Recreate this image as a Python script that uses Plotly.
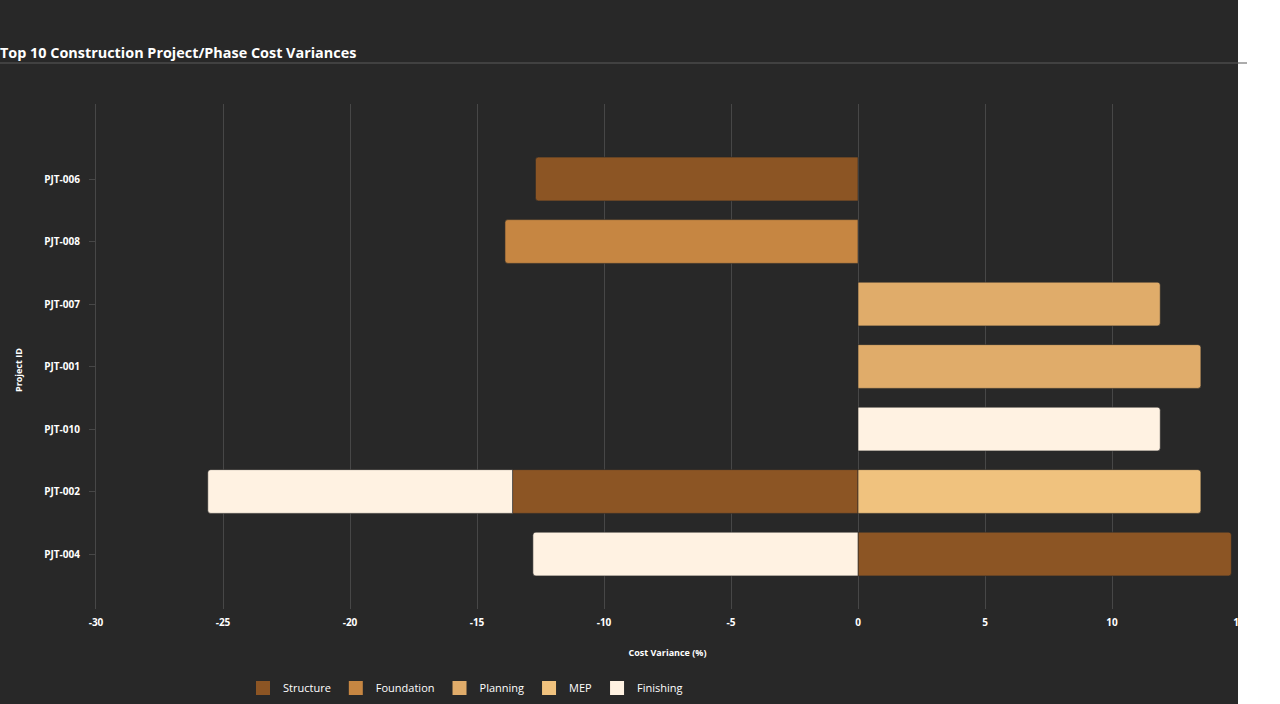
import plotly.graph_objects as go

projects = ["PJT-004", "PJT-002", "PJT-010", "PJT-001", "PJT-007", "PJT-008", "PJT-006"]
phases = ["Structure", "Foundation", "Planning", "MEP", "Finishing"]
colors = ["#8c5524", "#c68642", "#e0ac6a", "#f0c27e", "#fff2e2"]

# cost variance (%) per phase, per project (None = no entry)
structure = [14.7, -13.6, None, None, None, None, -12.7]
foundation = [None, None, None, None, None, -13.9, None]
planning = [None, None, None, 13.5, 11.9, None, None]
mep = [None, 13.5, None, None, None, None, None]
finishing = [-12.8, -12.0, 11.9, None, None, None, None]
series = [structure, foundation, planning, mep, finishing]

tick_vals = [-30, -25, -20, -15, -10, -5, 0, 5, 10, 15]
tick_text = ["-30", "-25", "-20", "-15", "-10", "-5", "0", "5", "10", "15"]

BG = "#282828"
FONT = "Open Sans"

fig = go.Figure()
for name, vals, col in zip(phases, series, colors):
    fig.add_trace(go.Bar(
        y=projects, x=vals, name=name, orientation="h", showlegend=False,
        marker=dict(color=col, line=dict(color="rgba(40,40,40,0.6)", width=1), cornerradius=3),
        width=0.7,
    ))
# legend entries with larger square swatches
for name, col in zip(phases, colors):
    fig.add_trace(go.Scatter(
        x=[None], y=[None], mode="markers", name=name,
        marker=dict(symbol="square", size=14, color=col),
    ))

W, H = 1280, 704
L, R, T, B = 96, 41, 104, 95
pw, ph = W - L - R, H - T - B

def px(x):
    return (x - L) / pw

def py(y):
    return (H - B - y) / ph

fig.update_layout(
    width=W, height=H,
    barmode="relative",
    paper_bgcolor=BG, plot_bgcolor=BG,
    margin=dict(l=L, r=R, t=T, b=B, pad=0, autoexpand=False),
    font=dict(family=FONT, color="#ffffff"),
    title=dict(text="<b>Top 10 Construction Project/Phase Cost Variances</b>",
               x=0, xref="container", xanchor="left",
               y=1 - 53 / H, yref="container", yanchor="middle",
               font=dict(size=14.4, color="#ffffff", family=FONT)),
    xaxis=dict(range=[-30, 15], tickvals=tick_vals, ticktext=["<b>%s</b>" % t for t in tick_text],
               showgrid=True, gridcolor="#474747", gridwidth=1,
               zeroline=False, showline=False, ticks="", automargin=False,
               tickfont=dict(size=10, color="#ffffff", family=FONT),
               ticklabelstandoff=6,
               title=dict(text="<b>Cost Variance (%)</b>", font=dict(size=9, color="#ffffff"), standoff=21)),
    yaxis=dict(type="category", categoryorder="array", categoryarray=projects,
               tickvals=projects, ticktext=["<b>%s</b>" % p for p in projects],
               range=[-0.88, 7.2], showgrid=False, zeroline=False, automargin=False,
               showline=True, linecolor="#474747", linewidth=1,
               ticks="outside", ticklen=6, tickcolor="#474747",
               tickfont=dict(size=10, color="#ffffff", family=FONT),
               ticklabelstandoff=7),
    legend=dict(orientation="h", x=px(243), xanchor="left", y=py(688), yanchor="middle",
                font=dict(size=11, color="#ffffff"), bgcolor="rgba(0,0,0,0)",
                traceorder="normal", itemclick=False),
    showlegend=True,
)

fig.add_annotation(text="<b>Project ID</b>", x=px(18), y=py(370), xref="paper", yref="paper",
                   textangle=-90, showarrow=False, font=dict(size=9, color="#ffffff"),
                   xanchor="center", yanchor="middle")

# white strip on the right of the chart container
fig.add_shape(type="rect", xref="paper", yref="paper", x0=px(1238), x1=px(1285), y0=py(710), y1=py(-5),
              fillcolor="#ffffff", line=dict(width=0), layer="above")
# title underline
fig.add_shape(type="line", xref="paper", yref="paper", x0=px(0), x1=px(1247), y0=py(63), y1=py(63),
              line=dict(color="#5a5a5a", width=1), layer="above")

fig.write_html("out.html")
